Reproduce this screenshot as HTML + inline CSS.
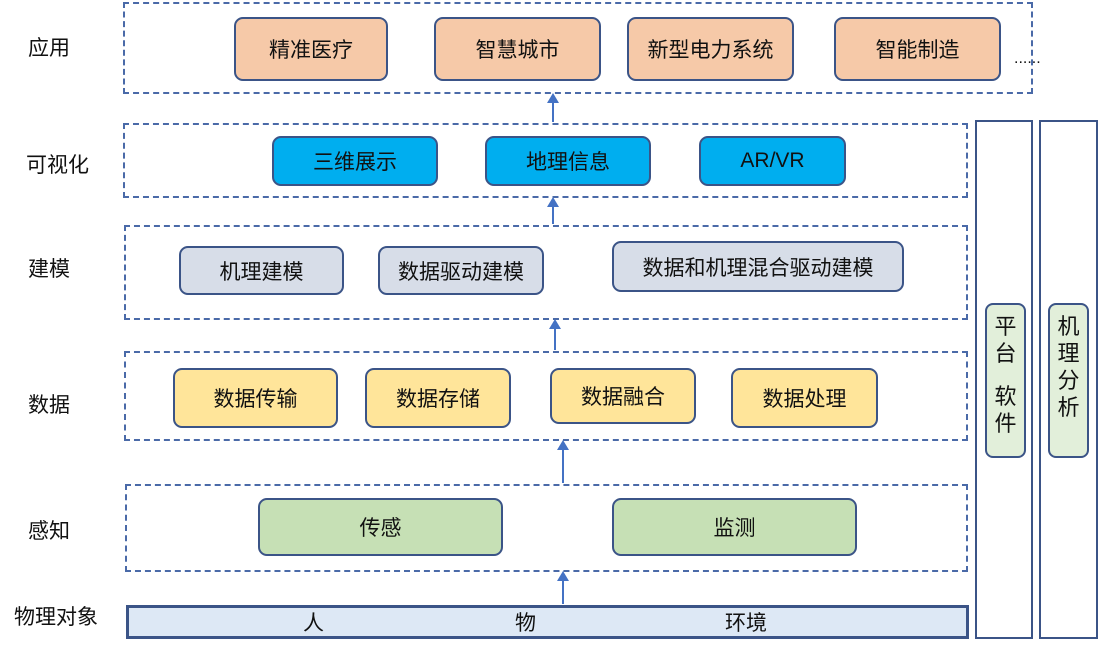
<!DOCTYPE html><html><head><meta charset="utf-8"><style>
body{margin:0;width:1098px;height:650px;background:#fff;position:relative;overflow:hidden;font-family:"Liberation Sans","Noto Sans CJK SC",sans-serif;color:#111}
div{position:absolute;box-sizing:border-box}
.L{border:2px dashed #4a6aa8}
.n{border:2px solid #3b5487;border-radius:9px;display:flex;align-items:center;justify-content:center;font-size:21px}
.a{background:#f6c9a8}.v{background:#00aeef}.m{background:#d7dde8}.d{background:#ffe59a}.p{background:#c6e0b5}
.t{font-size:21px;left:14px}
.ar{width:2px;background:#4472c4}
.ar:before{content:"";position:absolute;left:-5px;top:-2px;border:6px solid transparent;border-top:0;border-bottom:10px solid #4472c4}
.col{border:2px solid #3b5487}
.tag{border:2px solid #3b5487;border-radius:8px;background:#e2efda;font-size:22px;text-align:center;line-height:27px;padding-top:8px}
</style></head><body>
<div class="t" style="left:28px;top:32px">应用</div>
<div class="t" style="left:26px;top:149px">可视化</div>
<div class="t" style="left:28px;top:253px">建模</div>
<div class="t" style="left:28px;top:389px">数据</div>
<div class="t" style="left:28px;top:515px">感知</div>
<div class="t" style="left:14px;top:601px">物理对象</div>

<div class="L" style="left:123px;top:2px;width:910px;height:92px"></div>
<div class="L" style="left:123px;top:123px;width:845px;height:75px"></div>
<div class="L" style="left:124px;top:225px;width:844px;height:95px"></div>
<div class="L" style="left:124px;top:351px;width:844px;height:90px"></div>
<div class="L" style="left:125px;top:484px;width:843px;height:88px"></div>
<div style="left:126px;top:605px;width:843px;height:34px;border:3px solid #3b5487;background:#dde8f5;font-size:21px">
<span style="position:absolute;left:174px;top:-1px">人</span><span style="position:absolute;left:386px;top:-1px">物</span><span style="position:absolute;left:596px;top:-1px">环境</span></div>

<div class="col" style="left:975px;top:120px;width:58px;height:519px"></div>
<div class="col" style="left:1039px;top:120px;width:59px;height:519px"></div>
<div class="tag" style="left:985px;top:303px;width:41px;height:155px">平<br>台<br><span style="display:block;height:16px"></span>软<br>件</div>
<div class="tag" style="left:1048px;top:303px;width:41px;height:155px">机<br>理<br>分<br>析</div>

<div class="n a" style="left:234px;top:17px;width:154px;height:64px">精准医疗</div>
<div class="n a" style="left:434px;top:17px;width:167px;height:64px">智慧城市</div>
<div class="n a" style="left:627px;top:17px;width:167px;height:64px">新型电力系统</div>
<div class="n a" style="left:834px;top:17px;width:167px;height:64px">智能制造</div>
<div style="left:1014px;top:50px;font-size:16px">......</div>

<div class="n v" style="left:272px;top:136px;width:166px;height:50px">三维展示</div>
<div class="n v" style="left:485px;top:136px;width:166px;height:50px">地理信息</div>
<div class="n v" style="left:699px;top:136px;width:147px;height:50px">AR/VR</div>

<div class="n m" style="left:179px;top:246px;width:165px;height:49px">机理建模</div>
<div class="n m" style="left:378px;top:246px;width:166px;height:49px">数据驱动建模</div>
<div class="n m" style="left:612px;top:241px;width:292px;height:51px">数据和机理混合驱动建模</div>

<div class="n d" style="left:173px;top:368px;width:165px;height:60px">数据传输</div>
<div class="n d" style="left:365px;top:368px;width:146px;height:60px">数据存储</div>
<div class="n d" style="left:550px;top:368px;width:146px;height:56px">数据融合</div>
<div class="n d" style="left:731px;top:368px;width:147px;height:60px">数据处理</div>

<div class="n p" style="left:258px;top:498px;width:245px;height:58px">传感</div>
<div class="n p" style="left:612px;top:498px;width:245px;height:58px">监测</div>

<div class="ar" style="left:552px;top:95px;height:27px"></div>
<div class="ar" style="left:552px;top:199px;height:25px"></div>
<div class="ar" style="left:554px;top:321px;height:29px"></div>
<div class="ar" style="left:562px;top:442px;height:41px"></div>
<div class="ar" style="left:562px;top:573px;height:31px"></div>
</body></html>
